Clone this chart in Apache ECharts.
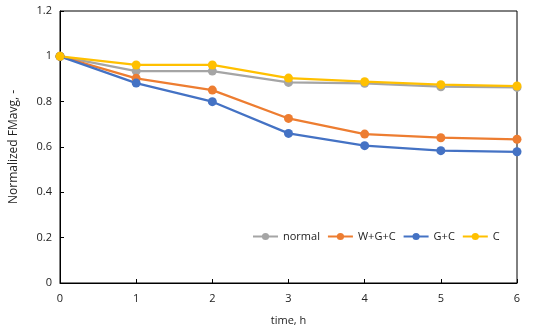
<!DOCTYPE html>
<html>
<head>
<meta charset="utf-8">
<script src="https://cdn.jsdelivr.net/npm/echarts@6/dist/echarts.min.js"></script>
<style>
  html, body { margin: 0; padding: 0; background: #fff; }
  #chart { width: 541px; height: 336px; }
</style>
</head>
<body>
<div id="chart"></div>
<script>
const hours = [0, 1, 2, 3, 4, 5, 6];
const seriesNames = ["normal", "W+G+C", "G+C", "C"];
const normal = [1, 0.935, 0.935, 0.885, 0.881, 0.866, 0.863];
const wgc = [1, 0.903, 0.851, 0.726, 0.657, 0.641, 0.634];
const gc = [1, 0.882, 0.8, 0.66, 0.606, 0.584, 0.579];
const c = [1, 0.962, 0.962, 0.904, 0.888, 0.875, 0.869];
const colors = ["#A5A5A5", "#ED7D31", "#4472C4", "#FFC000"];

const chart = echarts.init(document.getElementById("chart"));
const font = "Open Sans, Liberation Sans, sans-serif";

function toPoints(values) {
  return hours.map((h, i) => [h, values[i]]);
}

chart.setOption({
  animation: false,
  grid: {
    left: 56, right: 24, top: 11, bottom: 53,
    show: true, borderColor: "#000", borderWidth: 1
  },
  legend: {
    left: 252, top: 231, padding: 0,
    itemWidth: 25, itemHeight: 9, itemGap: 7,
    textStyle: { fontFamily: font, fontSize: 11, color: "#222" },
    data: seriesNames
  },
  xAxis: {
    type: "value", min: 0, max: 6, interval: 1,
    name: "time, h", nameLocation: "middle", nameGap: 32,
    nameTextStyle: { fontFamily: font, fontSize: 11, color: "#222" },
    axisLine: { lineStyle: { color: "#000" } },
    axisTick: { inside: true, length: 4, lineStyle: { color: "#000" } },
    axisLabel: { fontFamily: font, fontSize: 11, color: "#222", margin: 10 },
    splitLine: { show: false }
  },
  yAxis: {
    type: "value", min: 0, max: 1.2, interval: 0.2,
    name: "Normalized FMavg, -", nameLocation: "middle", nameGap: 40,
    nameTextStyle: { fontFamily: font, fontSize: 12, color: "#222" },
    axisLine: { show: true, lineStyle: { color: "#000" } },
    axisTick: { show: true, inside: true, length: 4, lineStyle: { color: "#000" } },
    axisLabel: { fontFamily: font, fontSize: 11, color: "#222", margin: 8 },
    splitLine: { show: false }
  },
  series: [normal, wgc, gc, c].map((vals, i) => ({
    name: seriesNames[i],
    type: "line",
    data: toPoints(vals),
    symbol: "circle",
    symbolSize: 9,
    color: colors[i],
    lineStyle: { width: 2.25, color: colors[i] },
    itemStyle: { color: colors[i] }
  }))
});
</script>
</body>
</html>
